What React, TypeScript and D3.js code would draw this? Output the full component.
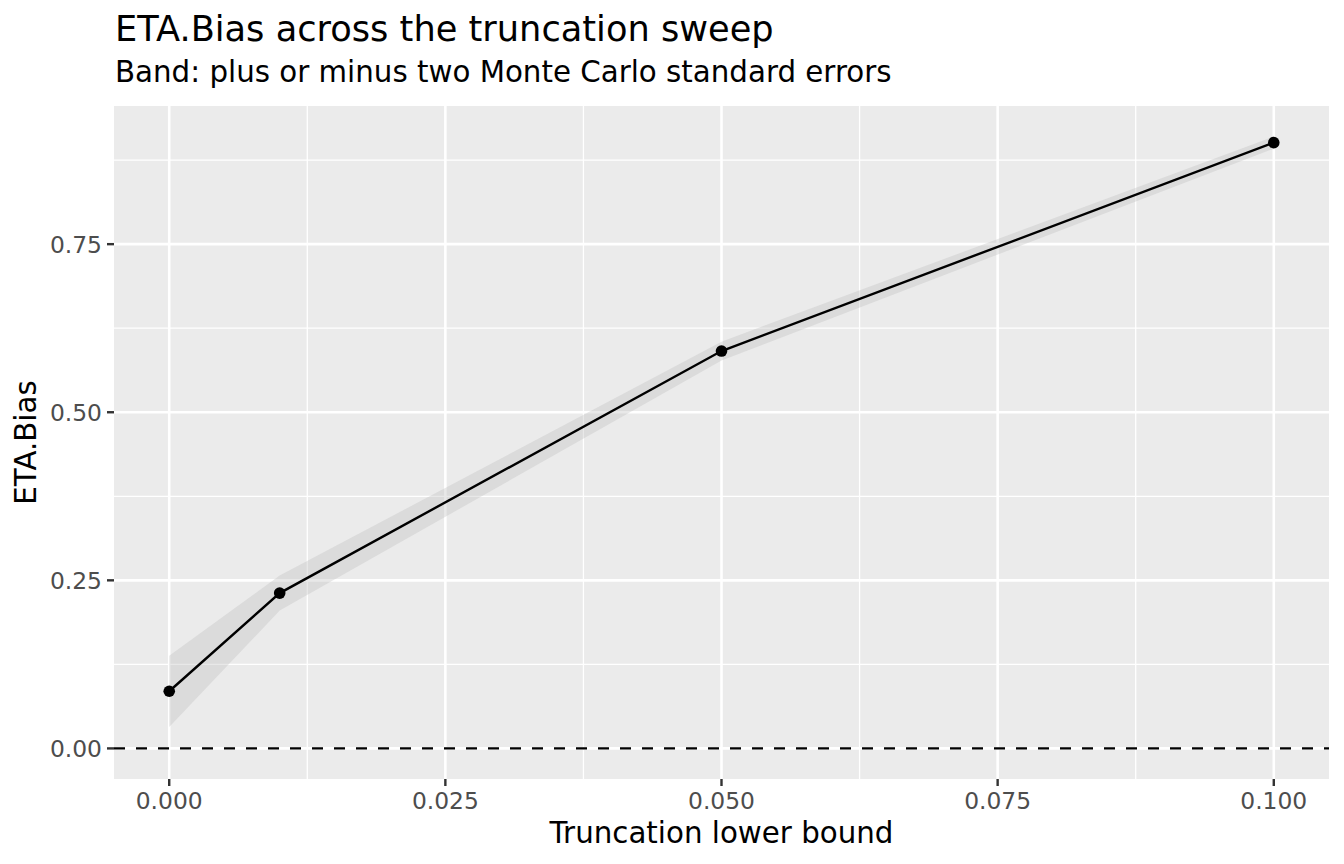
import * as d3 from 'd3';

// sweep values
const truncation = [0, 0.01, 0.05, 0.1];
const etaBias = [0.085, 0.231, 0.591, 0.901];
const mcseTwice = [0.053, 0.026, 0.014, 0.009];
const xTicks = [0, 0.025, 0.05, 0.075, 0.1];
const xMinor = [0.0125, 0.0375, 0.0625, 0.0875];
const yTicks = [0, 0.25, 0.5, 0.75];
const yMinor = [0.125, 0.375, 0.625, 0.875];

const W = 1344;
const H = 864;
const panel = { left: 114, right: 1329, top: 106, bottom: 779 };
const FONT = 'DejaVu Sans, sans-serif';

export default function App() {
  const rows = truncation.map((x, i) => ({
    x,
    y: etaBias[i],
    lo: etaBias[i] - mcseTwice[i],
    hi: etaBias[i] + mcseTwice[i],
  }));

  // ggplot-style 5% expansion
  const xr = d3.extent(truncation) as [number, number];
  const xPad = (xr[1] - xr[0]) * 0.05;
  const x = d3.scaleLinear().domain([xr[0] - xPad, xr[1] + xPad]).range([panel.left, panel.right]);

  const yMin = Math.min(0, d3.min(rows, (d) => d.lo) as number);
  const yMax = d3.max(rows, (d) => d.hi) as number;
  const yPad = (yMax - yMin) * 0.05;
  const y = d3.scaleLinear().domain([yMin - yPad, yMax + yPad]).range([panel.bottom, panel.top]);

  const band = d3
    .area<(typeof rows)[number]>()
    .x((d) => x(d.x))
    .y0((d) => y(d.lo))
    .y1((d) => y(d.hi));
  const line = d3
    .line<(typeof rows)[number]>()
    .x((d) => x(d.x))
    .y((d) => y(d.y));

  const fmtX = d3.format('.3f');
  const fmtY = d3.format('.2f');

  return (
    <svg width={W} height={H} style={{ display: 'block', position: 'absolute', left: 0, top: 0 }}>
      <rect width={W} height={H} fill="#FFFFFF" />
      <rect
        x={panel.left}
        y={panel.top}
        width={panel.right - panel.left}
        height={panel.bottom - panel.top}
        fill="#EBEBEB"
      />
      {/* minor grid */}
      {xMinor.map((t) => (
        <line key={'xm' + t} x1={x(t)} x2={x(t)} y1={panel.top} y2={panel.bottom} stroke="#FFFFFF" strokeWidth={1.3} />
      ))}
      {yMinor.map((t) => (
        <line key={'ym' + t} x1={panel.left} x2={panel.right} y1={y(t)} y2={y(t)} stroke="#FFFFFF" strokeWidth={1.3} />
      ))}
      {/* major grid */}
      {xTicks.map((t) => (
        <line key={'xg' + t} x1={x(t)} x2={x(t)} y1={panel.top} y2={panel.bottom} stroke="#FFFFFF" strokeWidth={2.6} />
      ))}
      {yTicks.map((t) => (
        <line key={'yg' + t} x1={panel.left} x2={panel.right} y1={y(t)} y2={y(t)} stroke="#FFFFFF" strokeWidth={2.6} />
      ))}

      <path d={band(rows) ?? ''} fill="#BEBEBE" fillOpacity={0.35} />
      <line
        x1={panel.left}
        x2={panel.right}
        y1={y(0)}
        y2={y(0)}
        stroke="#000000"
        strokeWidth={2.2}
        strokeDasharray="11,11"
      />
      <path d={line(rows) ?? ''} fill="none" stroke="#000000" strokeWidth={2.4} />
      {rows.map((d) => (
        <circle key={d.x} cx={x(d.x)} cy={y(d.y)} r={5.8} fill="#000000" />
      ))}

      {/* axes */}
      {xTicks.map((t) => (
        <g key={'xt' + t}>
          <line x1={x(t)} x2={x(t)} y1={panel.bottom} y2={panel.bottom + 7} stroke="#333333" strokeWidth={2.4} />
          <text x={x(t)} y={panel.bottom + 30} textAnchor="middle" fontFamily={FONT} fontSize={23.4} fill="#4D4D4D">
            {fmtX(t)}
          </text>
        </g>
      ))}
      {yTicks.map((t) => (
        <g key={'yt' + t}>
          <line x1={panel.left - 7} x2={panel.left} y1={y(t)} y2={y(t)} stroke="#333333" strokeWidth={2.4} />
          <text
            x={panel.left - 12}
            y={y(t)}
            dy="0.36em"
            textAnchor="end"
            fontFamily={FONT}
            fontSize={23.4}
            fill="#4D4D4D"
          >
            {fmtY(t)}
          </text>
        </g>
      ))}

      <text
        x={(panel.left + panel.right) / 2}
        y={843}
        textAnchor="middle"
        fontFamily={FONT}
        fontSize={29.3}
        fill="#000000"
      >
        Truncation lower bound
      </text>
      <text
        transform={`translate(36,${(panel.top + panel.bottom) / 2}) rotate(-90)`}
        textAnchor="middle"
        fontFamily={FONT}
        fontSize={29.3}
        fill="#000000"
      >
        ETA.Bias
      </text>

      <text x={115} y={41} fontFamily={FONT} fontSize={35.2} fill="#000000">
        ETA.Bias across the truncation sweep
      </text>
      <text x={115} y={82} fontFamily={FONT} fontSize={29.3} fill="#000000">
        Band: plus or minus two Monte Carlo standard errors
      </text>
    </svg>
  );
}
